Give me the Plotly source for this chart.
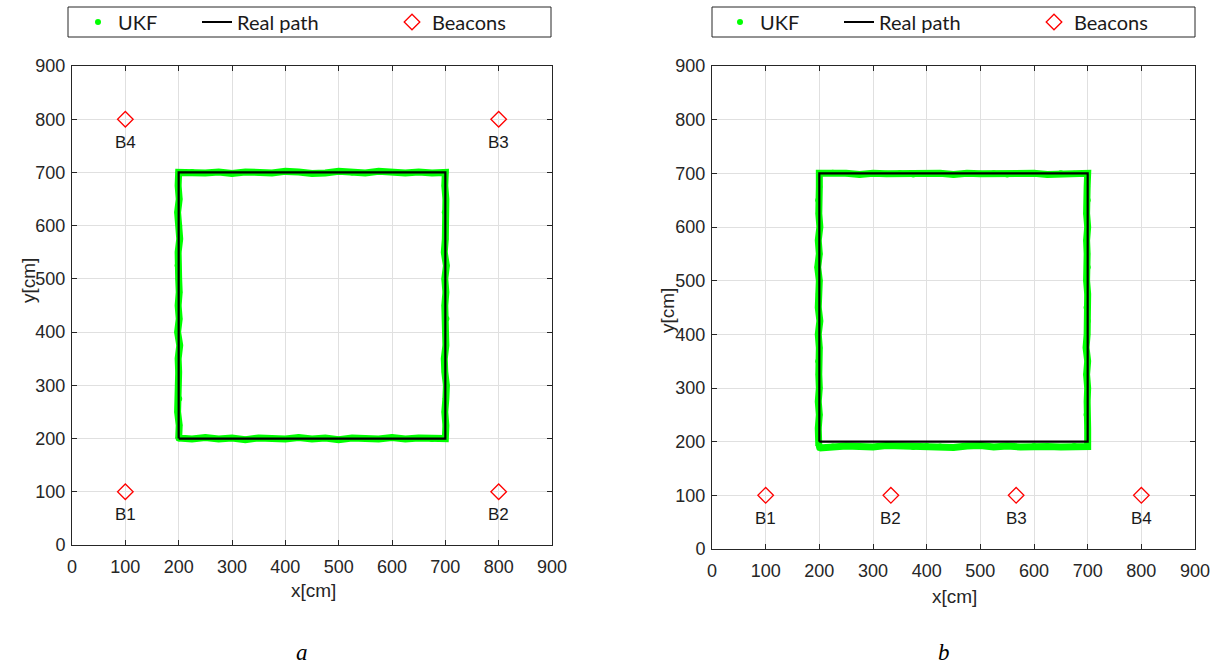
import plotly.graph_objects as go

W, H = 1222, 666

# Real path (square) shared by both panels
path_x = [200, 700, 700, 200, 200]
path_y = [200, 200, 700, 700, 200]

# ---- Panel a: UKF estimate ----
a_bot_x = [200, 225, 250, 275, 300, 325, 350, 375, 400, 425, 450, 475, 500, 525, 550, 575, 600, 625, 650, 675, 700]
a_bot_y = [201, 199, 202, 199, 201, 198, 201, 200, 199, 202, 199, 201, 198, 201, 200, 199, 202, 199, 201, 199, 200]
a_rgt_x = [701, 699, 701, 702, 699, 698, 701, 700, 702, 699, 701, 699, 702, 698, 700, 701, 699, 701, 699, 700]
a_rgt_y = [225, 250, 275, 300, 325, 350, 375, 400, 425, 450, 475, 500, 525, 550, 575, 600, 625, 650, 675, 700]
a_top_x = [675, 650, 625, 600, 575, 550, 525, 500, 475, 450, 425, 400, 375, 350, 325, 300, 275, 250, 225, 200]
a_top_y = [699, 701, 699, 701, 702, 699, 700, 702, 699, 698, 701, 702, 699, 700, 701, 698, 701, 699, 701, 700]
a_lft_x = [199, 201, 198, 201, 202, 199, 198, 200, 201, 199, 201, 198, 202, 199, 200, 199, 201, 198, 201, 200]
a_lft_y = [675, 650, 625, 600, 575, 550, 525, 500, 475, 450, 425, 400, 375, 350, 325, 300, 275, 250, 225, 200]

# ---- Panel b: UKF estimate ----
b_bot_x = [200, 225, 250, 275, 300, 325, 350, 375, 400, 425, 450, 475, 500, 525, 550, 575, 600, 625, 650, 675, 700]
b_bot_y = [188, 191, 192, 191, 190, 193, 192, 190, 192, 191, 189, 192, 193, 190, 192, 190, 192, 191, 190, 192, 191]
b_rgt_x = [700, 698, 699, 700, 698, 700, 697, 699, 700, 698, 700, 698, 700, 699, 698, 700, 698, 700, 699, 700]
b_rgt_y = [225, 250, 275, 300, 325, 350, 375, 400, 425, 450, 475, 500, 525, 550, 575, 600, 625, 650, 675, 700]
b_top_x = [675, 650, 625, 600, 575, 550, 525, 500, 475, 450, 425, 400, 375, 350, 325, 300, 275, 250, 225, 200]
b_top_y = [699, 700, 698, 700, 699, 698, 700, 699, 700, 698, 700, 699, 698, 700, 699, 700, 698, 700, 701, 700]
b_lft_x = [200, 198, 199, 201, 198, 200, 197, 200, 199, 198, 201, 198, 200, 198, 199, 200, 198, 200, 198, 199]
b_lft_y = [675, 650, 625, 600, 575, 550, 525, 500, 475, 450, 425, 400, 375, 350, 325, 300, 275, 250, 225, 192]

# Beacons
a_beacon_x = [100, 800, 800, 100]
a_beacon_y = [100, 100, 800, 800]
a_beacon_lbl = ["B1", "B2", "B3", "B4"]
b_beacon_x = [100, 333.3, 566.7, 800]
b_beacon_y = [100, 100, 100, 100]
b_beacon_lbl = ["B1", "B2", "B3", "B4"]

ticks = [0, 100, 200, 300, 400, 500, 600, 700, 800, 900]
panel_labels = ["a", "b"]

GREEN = "#00ff00"
AX = "#262626"

a_ux = a_bot_x + a_rgt_x + a_top_x + a_lft_x
a_uy = a_bot_y + a_rgt_y + a_top_y + a_lft_y
b_ux = b_bot_x + b_rgt_x + b_top_x + b_lft_x
b_uy = b_bot_y + b_rgt_y + b_top_y + b_lft_y

fig = go.Figure()

panels = [
    dict(ux=a_ux, uy=a_uy, bx=a_beacon_x, by=a_beacon_y, bl=a_beacon_lbl,
         xa="x", ya="y", legs=["legend", "legend2", "legend3"], lw=2.2),
    dict(ux=b_ux, uy=b_uy, bx=b_beacon_x, by=b_beacon_y, bl=b_beacon_lbl,
         xa="x2", ya="y2", legs=["legend4", "legend5", "legend6"], lw=2.2),
]

for p in panels:
    fig.add_trace(go.Scatter(x=p["ux"], y=p["uy"], mode="lines",
                             line=dict(color=GREEN, width=7),
                             xaxis=p["xa"], yaxis=p["ya"], showlegend=False,
                             hoverinfo="skip"))
    fig.add_trace(go.Scatter(x=p["ux"], y=p["uy"], mode="markers", name="UKF",
                             marker=dict(color=GREEN, size=6),
                             xaxis=p["xa"], yaxis=p["ya"], legend=p["legs"][0]))
    fig.add_trace(go.Scatter(x=path_x, y=path_y, mode="lines", name="Real path",
                             line=dict(color="black", width=p["lw"]),
                             xaxis=p["xa"], yaxis=p["ya"], legend=p["legs"][1]))
    fig.add_trace(go.Scatter(x=p["bx"], y=p["by"], mode="markers", name="Beacons",
                             marker=dict(symbol="diamond-open", color="red", size=12,
                                         line=dict(width=1.3, color="red")),
                             xaxis=p["xa"], yaxis=p["ya"], legend=p["legs"][2]))
    for bx, by, bl in zip(p["bx"], p["by"], p["bl"]):
        fig.add_annotation(x=bx, y=by, xref=p["xa"], yref=p["ya"], text=bl,
                           showarrow=False, yshift=-23, xanchor="center", yanchor="middle",
                           font=dict(family="Liberation Sans, Arial", size=17, color="#1a1a1a"))

axis_common = dict(range=[0, 900], tickvals=ticks, showgrid=True, gridcolor="#e0e0e0",
                   gridwidth=1, showline=True, linecolor=AX, linewidth=1, mirror="allticks",
                   ticks="inside", ticklen=5, tickcolor=AX, zeroline=False,
                   tickfont=dict(family="Liberation Sans, Arial", size=18, color=AX),
                   automargin=False, fixedrange=True)

xd_a = [72 / W, 552 / W]
xd_b = [712 / W, 1195 / W]
yd_a = [1 - 545 / H, 1 - 66 / H]
yd_b = [1 - 549 / H, 1 - 66 / H]

fig.update_layout(
    width=W, height=H, margin=dict(l=0, r=0, t=0, b=0),
    paper_bgcolor="white", plot_bgcolor="white",
    xaxis=dict(domain=xd_a, anchor="y", ticklabelstandoff=5, **axis_common),
    yaxis=dict(domain=yd_a, anchor="x", ticklabelstandoff=2, **axis_common),
    xaxis2=dict(domain=xd_b, anchor="y2", ticklabelstandoff=5, **axis_common),
    yaxis2=dict(domain=yd_b, anchor="x2", ticklabelstandoff=2, **axis_common),
)

# Axis titles
title_font = dict(family="Liberation Sans, Arial", size=19, color=AX)
for txt, xc, yc, ang in [("x[cm]", 313, 590, 0), ("y[cm]", 28, 281, -90),
                         ("x[cm]", 954, 596, 0), ("y[cm]", 667, 311, -90)]:
    fig.add_annotation(text=txt, xref="paper", yref="paper", x=xc / W, y=1 - yc / H,
                       showarrow=False, xanchor="center", yanchor="middle",
                       textangle=ang, font=title_font)

leg_font = dict(family="Lato, Liberation Sans", size=20, color="#1a1a1a")
leg_y = 1 - 22 / H
leg_pos = {"legend": 78, "legend2": 197, "legend3": 392,
           "legend4": 720, "legend5": 839, "legend6": 1034}
for name, xpx in leg_pos.items():
    fig.update_layout({name: dict(x=xpx / W, y=leg_y, xanchor="left", yanchor="middle",
                                  bgcolor="rgba(0,0,0,0)", borderwidth=0, font=leg_font,
                                  orientation="h", itemwidth=30)})

# legend boxes
for x0, x1 in [(68, 551), (712, 1195)]:
    fig.add_shape(type="rect", xref="paper", yref="paper",
                  x0=x0 / W, x1=x1 / W, y0=1 - 37 / H, y1=1 - 7 / H,
                  line=dict(color=AX, width=1), fillcolor="rgba(0,0,0,0)")

for lbl, xc in zip(panel_labels, [302, 944]):
    fig.add_annotation(text=lbl, xref="paper", yref="paper", x=xc / W, y=1 - 652 / H,
                       showarrow=False, xanchor="center", yanchor="middle",
                       font=dict(family="Liberation Serif, Times New Roman", size=23,
                                 color="black", style="italic"))

fig.write_html("out.html")
